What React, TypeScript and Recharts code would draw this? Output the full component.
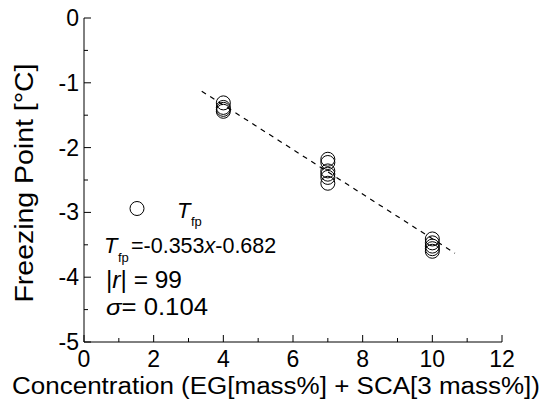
import React from "react";
import { ComposedChart, Scatter, XAxis, YAxis, Customized } from "recharts";

// measured points (concentration in mass%, freezing point in °C)
const CONCENTRATION = [4, 4, 4, 4, 7, 7, 7, 7, 7, 7, 10, 10, 10, 10, 10];
const FREEZING_POINT = [
  -1.31, -1.38, -1.41, -1.44, -2.18, -2.23, -2.36, -2.41, -2.46, -2.55, -3.41,
  -3.47, -3.52, -3.56, -3.6,
];

// dashed regression line, end points as drawn
const FIT_X = [3.38, 10.65];
const FIT_Y = [-1.13, -3.63];

const X_TICKS = [0, 1, 2, 3, 4, 5, 6, 7, 8, 9, 10, 11, 12];
const Y_TICKS = [-5, -4.5, -4, -3.5, -3, -2.5, -2, -1.5, -1, -0.5, 0];

const FONT = "'Liberation Sans', Arial, sans-serif";
const MAJOR = 7;
const MINOR = 4;

const points = CONCENTRATION.map((x, i) => ({ x, y: FREEZING_POINT[i] }));
const fitLine = FIT_X.map((x, i) => ({ x, y: FIT_Y[i] }));

const BottomTick = (props: any) => {
  const { x, y, payload } = props;
  const major = payload.value % 2 === 0;
  return (
    <g>
      <line x1={x} y1={y} x2={x} y2={y - (major ? MAJOR : MINOR)} stroke="#000" />
      {major && (
        <text x={x} y={y + 25} textAnchor="middle" fontSize={23} fontFamily={FONT} fill="#000">
          {payload.value}
        </text>
      )}
    </g>
  );
};

const TopTick = (props: any) => {
  const { x, y, payload } = props;
  const major = payload.value % 2 === 0;
  return <line x1={x} y1={y} x2={x} y2={y + (major ? MAJOR : MINOR)} stroke="#000" />;
};

const LeftTick = (props: any) => {
  const { x, y, payload } = props;
  const major = Number.isInteger(payload.value);
  return (
    <g>
      <line x1={x} y1={y} x2={x + (major ? MAJOR : MINOR)} y2={y} stroke="#000" />
      {major && (
        <text x={x - 5} y={y + 8} textAnchor="end" fontSize={23} fontFamily={FONT} fill="#000">
          {payload.value}
        </text>
      )}
    </g>
  );
};

const RightTick = (props: any) => {
  const { x, y, payload } = props;
  const major = Number.isInteger(payload.value);
  return <line x1={x} y1={y} x2={x - (major ? MAJOR : MINOR)} y2={y} stroke="#000" />;
};

const Circle = (props: any) => (
  <circle cx={props.cx} cy={props.cy} r={7} fill="none" stroke="#000" strokeWidth={1} />
);

const Annotations = () => (
  <g fontFamily={FONT} fill="#000">
    <circle cx={137} cy={208.5} r={7} fill="none" stroke="#000" />
    <text x={177} y={218} fontSize={22} fontStyle="italic">T</text>
    <text x={191} y={226} fontSize={13}>fp</text>

    <text x={104} y={253} fontSize={22} fontStyle="italic">T</text>
    <text x={118} y={262} fontSize={13}>fp</text>
    <text x={131} y={253} fontSize={21.5}>
      =-0.353<tspan fontStyle="italic">x</tspan>-0.682
    </text>

    <text x={106} y={288} fontSize={23} textLength={76} lengthAdjust="spacingAndGlyphs">
      |<tspan fontStyle="italic">r</tspan>| = 99
    </text>

    <text x={106} y={315} fontSize={23} textLength={102} lengthAdjust="spacingAndGlyphs">
      <tspan fontStyle="italic">σ</tspan>= 0.104
    </text>

    <text x={12} y={394} fontSize={23} textLength={528} lengthAdjust="spacingAndGlyphs">
      Concentration (EG[mass%] + SCA[3 mass%])
    </text>
    <text
      transform="translate(33,183) rotate(-90)"
      textAnchor="middle"
      fontSize={26}
      textLength={239}
      lengthAdjust="spacingAndGlyphs"
    >
      Freezing Point [°C]
    </text>
  </g>
);

export default function App() {
  return (
    <div style={{ position: "absolute", left: 0, top: 0, background: "#fff" }}>
      <ComposedChart
        width={547}
        height={413}
        margin={{ top: 18, right: 45, left: 0, bottom: 0 }}
      >
        <XAxis
          xAxisId={0}
          dataKey="x"
          type="number"
          domain={[0, 12]}
          ticks={X_TICKS}
          interval={0}
          allowDataOverflow
          height={71}
          tickSize={0}
          tickMargin={0}
          tickLine={false}
          axisLine={{ stroke: "#000" }}
          tick={<BottomTick />}
        />
        <XAxis
          xAxisId="top"
          orientation="top"
          type="number"
          domain={[0, 12]}
          ticks={X_TICKS}
          interval={0}
          allowDataOverflow
          height={0}
          tickSize={0}
          tickMargin={0}
          tickLine={false}
          axisLine={{ stroke: "#000" }}
          tick={<TopTick />}
        />
        <YAxis
          yAxisId={0}
          dataKey="y"
          type="number"
          domain={[-5, 0]}
          ticks={Y_TICKS}
          interval={0}
          allowDataOverflow
          width={84}
          tickSize={0}
          tickMargin={0}
          tickLine={false}
          axisLine={{ stroke: "#000" }}
          tick={<LeftTick />}
        />
        <YAxis
          yAxisId="right"
          orientation="right"
          type="number"
          domain={[-5, 0]}
          ticks={Y_TICKS}
          interval={0}
          allowDataOverflow
          width={0}
          tickSize={0}
          tickMargin={0}
          tickLine={false}
          axisLine={{ stroke: "#000" }}
          tick={<RightTick />}
        />
        <Scatter
          data={fitLine}
          line={{ stroke: "#000", strokeWidth: 1.2, strokeDasharray: "5 5" }}
          lineType="joint"
          shape={() => null}
          isAnimationActive={false}
        />
        <Scatter data={points} shape={<Circle />} isAnimationActive={false} />
        <Customized component={Annotations} />
      </ComposedChart>
    </div>
  );
}
